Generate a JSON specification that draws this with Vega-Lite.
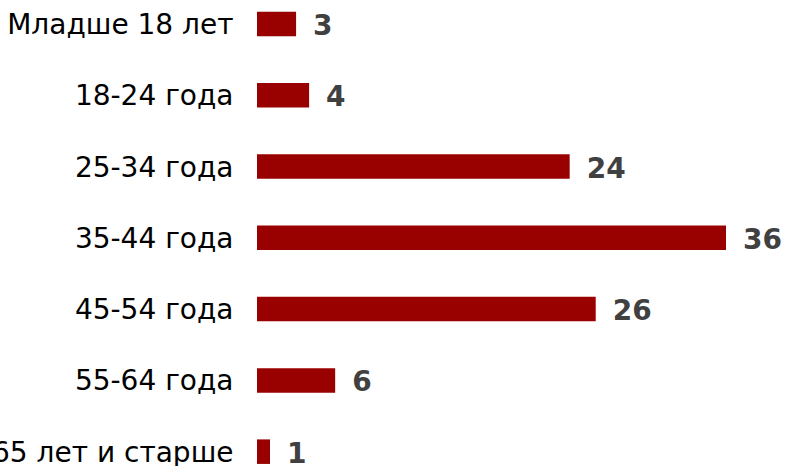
{
  "$schema": "https://vega.github.io/schema/vega-lite/v6.json",
  "autosize": "none",
  "width": 469,
  "height": 466,
  "padding": {"left": 257, "right": 63, "top": 0, "bottom": 0},
  "background": "white",
  "config": {"view": {"stroke": null}},
  "data": {
    "values": [
      {"group": "Младше 18 лет", "value": 3},
      {"group": "18-24 года", "value": 4},
      {"group": "25-34 года", "value": 24},
      {"group": "35-44 года", "value": 36},
      {"group": "45-54 года", "value": 26},
      {"group": "55-64 года", "value": 6},
      {"group": "65 лет и старше", "value": 1}
    ]
  },
  "encoding": {
    "y": {
      "field": "group",
      "type": "nominal",
      "sort": null,
      "scale": {"paddingInner": 0.656, "paddingOuter": 0.097, "align": 0.85},
      "axis": {
        "title": null,
        "ticks": false,
        "domain": false,
        "labelPadding": 24,
        "labelOffset": 2,
        "labelLimit": 0,
        "labelFont": "DejaVu Sans",
        "labelFontSize": 28,
        "labelColor": "#000000"
      }
    },
    "x": {
      "field": "value",
      "type": "quantitative",
      "scale": {"domain": [0, 36], "nice": false, "zero": true},
      "axis": null
    }
  },
  "layer": [
    {"mark": {"type": "bar", "color": "#990000"}},
    {
      "mark": {
        "type": "text",
        "align": "left",
        "baseline": "middle",
        "dx": 17,
        "dy": 3,
        "font": "DejaVu Sans",
        "fontSize": 28,
        "fontWeight": "bold",
        "color": "#404040"
      },
      "encoding": {"text": {"field": "value", "type": "quantitative"}}
    }
  ]
}
